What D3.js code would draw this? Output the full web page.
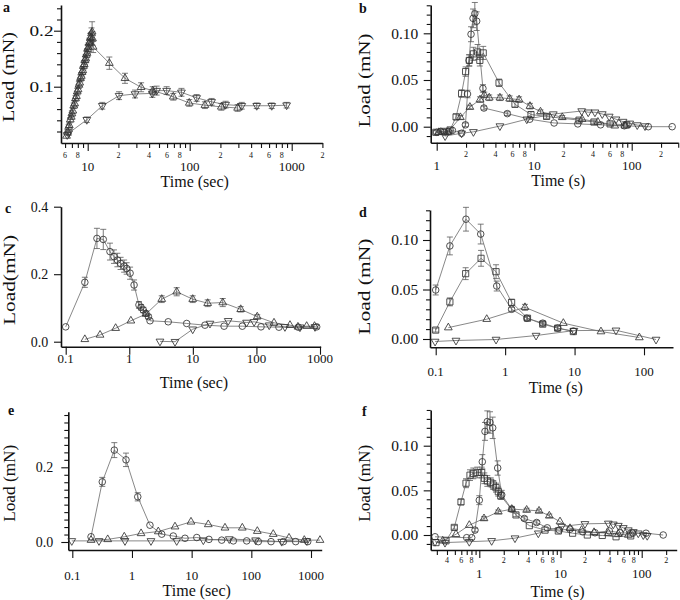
<!DOCTYPE html>
<html><head><meta charset="utf-8">
<script src="https://cdn.jsdelivr.net/npm/d3@7"></script>
<style>
body{margin:0;background:#fff}
svg{display:block;background:#fff}
text{font-family:"Liberation Serif","Times New Roman",serif;fill:#111}
</style>
</head><body>
<svg id="chart" width="680" height="600"></svg>
<script>
// ================= DATA =================
// Panel a
const aUpT = [6.2,6.35,6.5,6.6,6.75,6.9,7.0,7.15,7.3,7.45,7.6,7.75,7.9,8.05,8.2,8.35,8.5,8.65,8.8,8.95,9.1,9.25,9.4,9.55,9.7,9.85,10.0,10.15,10.3,10.45,10.6,10.75,10.9,11.05,11.15,11.3,16.3,23.2,33.4,43.4,69,99,141,204,295];
const aUpY = [0.012,0.019,0.028,0.031,0.041,0.046,0.052,0.057,0.066,0.070,0.079,0.083,0.091,0.095,0.103,0.107,0.115,0.119,0.126,0.129,0.137,0.140,0.147,0.150,0.157,0.160,0.167,0.170,0.177,0.179,0.186,0.188,0.195,0.198,0.186,0.171,0.142,0.115,0.099,0.093,0.082,0.071,0.067,0.064,0.062];
const aUpE = [0.003,0.003,0.004,0.004,0.004,0.004,0.005,0.005,0.005,0.005,0.005,0.005,0.006,0.006,0.006,0.006,0.006,0.006,0.007,0.007,0.007,0.007,0.007,0.007,0.008,0.008,0.008,0.008,0.008,0.008,0.009,0.009,0.010,0.018,0.012,0.010,0.011,0.009,0.008,0.007,0.006,0.006,0.006,0.006,0.006];
const aDnT = [6.3,6.5,9.8,13.9,20.3,29.1,43,47.4,59.4,83,117,164,225,324,454,637,892];
const aDnY = [0.014,0.017,0.041,0.066,0.084,0.087,0.088,0.093,0.093,0.090,0.080,0.073,0.068,0.066,0.066,0.066,0.067];
const aDnE = [0.003,0.004,0.005,0.006,0.007,0.007,0.007,0.008,0.007,0.007,0.006,0.006,0.006,0.006,0.005,0.005,0.005];

// Panel b
const bCiT = [1.0,1.1,1.2,1.32,1.45,1.8,1.97,2.07,2.15,2.25,2.36,2.46,2.57,2.98,3.05,5.3,9.0,16,28,48,84,148,260];
const bCiY = [-0.006,-0.005,-0.006,-0.005,-0.004,-0.007,0.002,0.035,0.071,0.099,0.116,0.121,0.113,0.041,0.020,0.014,0.008,0.004,0.003,0.002,0.001,0.0,0.0];
const bCiE = [0.001,0.001,0.001,0.001,0.001,0.001,0.002,0.004,0.006,0.008,0.010,0.012,0.010,0.004,0.002,0.002,0.001,0.001,0.001,0.001,0.001,0.001,0.001];
const bSqT = [0.98,1.17,1.37,1.58,1.8,1.98,2.16,2.38,2.63,2.77,3.0,4.36,6.35,9.27,13.4,28.8,41,60,89];
const bSqY = [-0.006,-0.005,-0.0035,0.0105,0.0355,0.059,0.071,0.078,0.080,0.071,0.079,0.047,0.024,0.013,0.011,0.007,0.005,0.003,0.002];
const bSqE = [0.002,0.002,0.002,0.003,0.004,0.005,0.006,0.007,0.008,0.006,0.007,0.004,0.003,0.003,0.002,0.002,0.002,0.002,0.002];
const bUpT = [1.05,1.3,1.75,2.19,2.78,3.08,3.46,4.45,5.6,7.0,9.05,11.6,19.4,31,45,67,85];
const bUpY = [-0.006,-0.006,0.010,0.021,0.029,0.034,0.031,0.031,0.030,0.029,0.022,0.016,0.010,0.008,0.005,0.001,0.001];
const bUpE = [0.001,0.001,0.002,0.002,0.003,0.003,0.003,0.003,0.003,0.003,0.003,0.002,0.002,0.001,0.001,0.001,0.001];
const bDnT = [1.22,1.8,2.38,4.45,8.4,15.7,30.7,35.8,42,49.9,58.8,69,81.5,95.5,114,137];
const bDnY = [-0.010,-0.007,-0.0055,0.0007,0.008,0.0135,0.0168,0.0155,0.0155,0.0136,0.011,0.008,0.0055,0.0036,0.0018,0.0007];
const bDnE = [0.001,0.001,0.001,0.001,0.001,0.001,0.001,0.001,0.001,0.001,0.001,0.001,0.001,0.001,0.001,0.001];

// Panel c
const cCiT = [0.1,0.2,0.31,0.39,0.497,0.575,0.65,0.73,0.83,0.91,1.03,1.19,1.42,1.53,1.66,1.83,2.0,2.12,4.1,8.0,15.5,31,60,118,226,456,887];
const cCiY = [0.044,0.176,0.306,0.303,0.267,0.252,0.242,0.232,0.224,0.217,0.203,0.168,0.109,0.102,0.094,0.084,0.074,0.062,0.059,0.054,0.049,0.046,0.046,0.044,0.043,0.043,0.044];
const cCiE = [0.004,0.015,0.030,0.030,0.025,0.020,0.020,0.018,0.018,0.017,0.018,0.015,0.010,0.008,0.008,0.006,0.006,0.005,0.005,0.004,0.004,0.004,0.004,0.003,0.003,0.003,0.003];
const cUpT = [0.2,0.347,0.61,1.06,1.83,3.24,5.57,9.95,17.1,29.5,56.6,103,189,337,450,617,820];
const cUpY = [0.007,0.020,0.040,0.062,0.082,0.126,0.148,0.126,0.114,0.116,0.096,0.074,0.056,0.049,0.044,0.046,0.046];
const cUpE = [0.002,0.003,0.003,0.004,0.004,0.010,0.012,0.010,0.010,0.012,0.008,0.006,0.004,0.003,0.003,0.003,0.003];
const cDnT = [3.04,5.24,9.95,18.6,36,70,92,159,281,484,834];
const cDnY = [0.001,0.0,0.037,0.054,0.062,0.057,0.059,0.049,0.044,0.043,0.044];
const cDnE = [0,0,0.003,0.003,0.004,0.004,0.004,0.003,0.003,0.003,0.003];

// Panel d
const dCiT = [0.1,0.16,0.273,0.445,0.757,1.24,2.05,3.48,5.71,9.6];
const dCiY = [0.0495,0.094,0.121,0.106,0.0535,0.030,0.021,0.016,0.011,0.008];
const dCiE = [0.005,0.009,0.012,0.010,0.005,0.002,0.002,0.002,0.002,0.001];
const dSqT = [0.1,0.16,0.27,0.45,0.74,1.24,2.1,3.48,5.71,9.6];
const dSqY = [0.009,0.0375,0.066,0.0815,0.068,0.037,0.021,0.015,0.011,0.0075];
const dSqE = [0.002,0.004,0.006,0.008,0.007,0.003,0.002,0.002,0.002,0.001];
const dUpT = [0.152,0.543,1.93,6.89,24,85.7];
const dUpY = [0.0115,0.020,0.032,0.016,0.0075,0.0015];
const dUpE = [0.001,0.001,0.003,0.001,0.001,0.001];
const dDnT = [0.098,0.196,0.74,2.79,9.8,39.5,149];
const dDnY = [-0.0025,-0.0015,-0.0005,0.0035,0.0085,0.0088,-0.0005];
const dDnE = [0,0.001,0.001,0.001,0.001,0.001,0.001];

// Panel e
const eCiT = [0.206,0.318,0.506,0.794,1.25,2.0,3.15,4.92,7.74,12.2,19.5,31.9,49.9,83.6,131,214,344,554,881];
const eCiY = [0.014,0.161,0.246,0.220,0.121,0.045,0.021,0.016,0.010,0.012,0.007,0.005,0.003,0.003,0.001,0.001,0.001,0.001,0.001];
const eCiE = [0.003,0.012,0.020,0.018,0.011,0.004,0.002,0.002,0.002,0.002,0.002,0.002,0.002,0.002,0.002,0.002,0.002,0.002,0.002];
const eUpT = [0.206,0.392,0.743,1.42,2.76,5.26,9.75,19,36.2,70.6,126,233,428,772,1416];
const eUpY = [0.005,0.007,0.014,0.023,0.028,0.041,0.054,0.047,0.038,0.038,0.029,0.021,0.011,0.005,0.005];
const eUpE = [0.002,0.002,0.002,0.003,0.003,0.004,0.004,0.003,0.003,0.004,0.003,0.003,0.002,0.002,0.002];
const eDnT = [0.098,0.28,0.764,2.08,5.62,15.7,42.7,118,323,847];
const eDnY = [0.003,0.003,0.003,0.003,0.003,0.005,0.008,0.005,0.001,0.003];
const eDnE = [0.001,0.001,0.001,0.001,0.001,0.001,0.001,0.001,0.001,0.001];

// Panel f
const fCiT = [0.285,0.70,0.806,0.885,1.0,1.089,1.175,1.255,1.355,1.462,1.685,1.888,2.51,3.58,5.09,6.87,9.66,13.1,18.8,26.6,39.9,54.1,77.5,113,184];
const fCiY = [-0.002,-0.003,-0.003,0.0055,0.039,0.082,0.116,0.127,0.126,0.120,0.075,0.045,0.029,0.0185,0.014,0.008,0.0055,0.0065,0.0035,0.0025,0.0045,0.0025,0.002,0.002,0.0];
const fCiE = [0.001,0.001,0.001,0.002,0.005,0.008,0.010,0.012,0.012,0.012,0.008,0.005,0.003,0.002,0.002,0.001,0.001,0.001,0.001,0.001,0.001,0.001,0.001,0.001,0.001];
const fSqT = [0.293,0.389,0.492,0.595,0.686,0.768,0.844,0.944,1.07,1.153,1.255,1.381,1.486,1.606,1.715,1.835,2.83,4.13,6.45,9.4,14.1,21.4,32.7,48.3,73.2];
const fSqY = [-0.0085,-0.0065,0.0085,0.037,0.058,0.067,0.069,0.070,0.070,0.0635,0.0605,0.059,0.056,0.053,0.0485,0.044,0.0225,0.0105,0.0055,0.0045,0.002,0.0,-0.0005,-0.002,-0.001];
const fSqE = [0.001,0.001,0.002,0.003,0.005,0.006,0.006,0.006,0.006,0.006,0.006,0.005,0.005,0.005,0.005,0.004,0.002,0.001,0.001,0.001,0.001,0.001,0.001,0.001,0.001];
const fUpT = [0.354,0.516,0.753,1.143,1.714,2.51,3.83,5.44,7.28,9.86,13.1,18.2,25.9,38.8,51.5,68.4];
const fUpY = [-0.0065,0.0008,0.011,0.0185,0.026,0.029,0.028,0.027,0.0215,0.015,0.0075,0.0055,0.003,0.002,0.001,0.0];
const fUpE = [0.001,0.001,0.001,0.002,0.002,0.002,0.002,0.002,0.002,0.001,0.001,0.001,0.001,0.001,0.001,0.001];
const fDnT = [0.285,0.378,0.753,1.42,2.75,5.33,10.3,20,38.8,44.7,51.5,59.3,68.4,78.8,90.8,104.6,117];
const fDnY = [-0.0075,-0.0085,-0.0075,-0.0065,-0.0035,0.002,0.0095,0.0125,0.013,0.012,0.0105,0.008,0.0055,0.0035,0.002,0.0,-0.0008];
const fDnE = [0.001,0.001,0.001,0.001,0.001,0.001,0.001,0.001,0.001,0.001,0.001,0.001,0.001,0.001,0.001,0.001,0.001];

// ================= TICKS =================
const aXMajor = [10,100,1000], aXMajorLab = ["10","100","1000"];
const aXMinor = [6,7,8,9,20,30,40,50,60,70,80,90,200,300,400,500,600,700,800,900,2000];
const aXMinorLabV = [6,8,20,40,60,80,200,400,600,800,2000], aXMinorLab = ["6","8","2","4","6","8","2","4","6","8","2"];
const aYMajor = [0.1,0.2], aYMajorLab = ["0.1","0.2"];
const aYMinor = [0.02,0.04,0.06,0.08,0.12,0.14,0.16,0.18,0.22,0.24];

const bXMajor = [1,10,100], bXMajorLab = ["1","10","100"];
const bXMinor = [2,3,4,5,6,7,8,9,20,30,40,50,60,70,80,90,200,300];
const bXMinorLabV = [2,4,6,8,20,40,60,80,200], bXMinorLab = ["2","4","6","8","2","4","6","8","2"];
const bYMajor = [0,0.05,0.10], bYMajorLab = ["0.00","0.05","0.10"];
const bYMinor = [-0.01,0.01,0.02,0.03,0.04,0.06,0.07,0.08,0.09,0.11,0.12,0.13];

const cXMajor = [0.1,1,10,100,1000], cXMajorLab = ["0.1","1","10","100","1000"];
const cYMajor = [0,0.2,0.4], cYMajorLab = ["0.0","0.2","0.4"];

const dXMajor = [0.1,1,10,100], dXMajorLab = ["0.1","1","10","100"];
const dYMajor = [0,0.05,0.10], dYMajorLab = ["0.00","0.05","0.10"];
const dYMinor = [0.01,0.02,0.03,0.04,0.06,0.07,0.08,0.09,0.11,0.12,0.13];

const eXMajor = [0.1,1,10,100,1000], eXMajorLab = ["0.1","1","10","100","1000"];
const eYMajor = [0,0.2], eYMajorLab = ["0.0","0.2"];
const eYMinor = [0.02,0.04,0.06,0.08,0.10,0.12,0.14,0.16,0.18,0.22,0.24,0.26,0.28,0.30,0.32,0.34];

const fXMajor = [1,10,100], fXMajorLab = ["1","10","100"];
const fXMinor = [0.3,0.4,0.5,0.6,0.7,0.8,0.9,2,3,4,5,6,7,8,9,20,30,40,50,60,70,80,90,200];
const fXMinorLabV = [0.4,0.6,0.8,2,4,6,8,20,40,60,80,200], fXMinorLab = ["4","6","8","2","4","6","8","2","4","6","8","2"];
const fYMajor = [0,0.05,0.10], fYMajorLab = ["0.00","0.05","0.10"];
const fYMinor = [-0.01,0.01,0.02,0.03,0.04,0.06,0.07,0.08,0.09,0.11,0.12,0.13,0.14];

// ================= LAYOUT =================
const panels = [
 {id:"a", L:61, R:322.4, T:5, B:143, xRef:[10,1000], xPx:[87.7,291.7], yRef:[0,0.2], yPx:[142.7,30.7],
  xMajor:aXMajor, xMajorLab:aXMajorLab, xMinor:aXMinor, xMinorLabV:aXMinorLabV, xMinorLab:aXMinorLab,
  yMajor:aYMajor, yMajorLab:aYMajorLab, yMinor:aYMinor,
  yLabRight:53.5, yLabSize:14, yLabLen:24, majorDy:27.5, minorDy:14.5, xTitle:"Time (sec)", xTitleX:194.7, xTitleY:187,
  yTitle:"Load (mN)", yTitleX:8, yTitleY:77, yTitleLen:90, letterX:3, letterY:12,
  series:[{t:aUpT,y:aUpY,e:aUpE,m:"up"},{t:aDnT,y:aDnY,e:aDnE,m:"dn"}]},
 {id:"b", L:430.7, R:678, T:5, B:142.7, xRef:[1,100], xPx:[436.7,631.7], yRef:[0,0.1], yPx:[126.7,33.3],
  xMajor:bXMajor, xMajorLab:bXMajorLab, xMinor:bXMinor, xMinorLabV:bXMinorLabV, xMinorLab:bXMinorLab,
  yMajor:bYMajor, yMajorLab:bYMajorLab, yMinor:bYMinor,
  yLabRight:418.3, yLabSize:15, yLabLen:27, majorDy:27, minorDy:14.3, xTitle:"Time (s)", xTitleX:558.3, xTitleY:185.5,
  yTitle:"Load (mN)", yTitleX:364, yTitleY:80.5, yTitleLen:94, letterX:359, letterY:13,
  series:[{t:bCiT,y:bCiY,e:bCiE,m:"ci"},{t:bSqT,y:bSqY,e:bSqE,m:"sq"},{t:bUpT,y:bUpY,e:bUpE,m:"up"},{t:bDnT,y:bDnY,e:bDnE,m:"dn"}]},
 {id:"c", L:61, R:320.7, T:206.7, B:346.7, xRef:[0.1,1000], xPx:[65.7,320], yRef:[0,0.4], yPx:[341.7,206.7],
  xMajor:cXMajor, xMajorLab:cXMajorLab, xMinor:[], xMinorLabV:[], xMinorLab:[],
  yMajor:cYMajor, yMajorLab:cYMajorLab, yMinor:[],
  yLabRight:48.3, yLabSize:14, yLabLen:null, majorDy:16.6, minorDy:0, xTitle:"Time (sec)", xTitleX:194, xTitleY:388,
  yTitle:"Load(mN)", yTitleX:9, yTitleY:280, yTitleLen:90, letterX:5, letterY:213,
  series:[{t:cCiT,y:cCiY,e:cCiE,m:"ci"},{t:cUpT,y:cUpY,e:cUpE,m:"up"},{t:cDnT,y:cDnY,e:cDnE,m:"dn"}]},
 {id:"d", L:430, R:673, T:210, B:347.3, xRef:[0.1,100], xPx:[435.7,644], yRef:[0,0.1], yPx:[339,240],
  xMajor:dXMajor, xMajorLab:dXMajorLab, xMinor:[], xMinorLabV:[], xMinorLab:[],
  yMajor:dYMajor, yMajorLab:dYMajorLab, yMinor:dYMinor,
  yLabRight:418.3, yLabSize:15, yLabLen:27, majorDy:28.4, minorDy:0, xTitle:"Time (s)", xTitleX:555.8, xTitleY:393,
  yTitle:"Load (mN)", yTitleX:364, yTitleY:286.7, yTitleLen:96, letterX:359, letterY:216.5,
  series:[{t:dCiT,y:dCiY,e:dCiE,m:"ci"},{t:dSqT,y:dSqY,e:dSqE,m:"sq"},{t:dUpT,y:dUpY,e:dUpE,m:"up"},{t:dDnT,y:dDnY,e:dDnE,m:"dn"}]},
 {id:"e", L:68.3, R:321.7, T:411.7, B:550, xRef:[0.1,1000], xPx:[72.3,311], yRef:[0,0.2], yPx:[542,467.3],
  xMajor:eXMajor, xMajorLab:eXMajorLab, xMinor:[], xMinorLabV:[], xMinorLab:[],
  yMajor:eYMajor, yMajorLab:eYMajorLab, yMinor:eYMinor,
  yLabRight:53.3, yLabSize:14, yLabLen:null, majorDy:29.5, minorDy:0, xTitle:"Time (sec)", xTitleX:196.7, xTitleY:595.5,
  yTitle:"Load (mN)", yTitleX:9, yTitleY:483.3, yTitleLen:77, letterX:8, letterY:415,
  series:[{t:eCiT,y:eCiY,e:eCiE,m:"ci"},{t:eUpT,y:eUpY,e:eUpE,m:"up"},{t:eDnT,y:eDnY,e:eDnE,m:"dn"}]},
 {id:"f", L:430.7, R:676.7, T:410, B:550, xRef:[1,100], xPx:[479.3,641.7], yRef:[0,0.1], yPx:[535,445.7],
  xMajor:fXMajor, xMajorLab:fXMajorLab, xMinor:fXMinor, xMinorLabV:fXMinorLabV, xMinorLab:fXMinorLab,
  yMajor:fYMajor, yMajorLab:fYMajorLab, yMinor:fYMinor,
  yLabRight:418.3, yLabSize:15, yLabLen:27, majorDy:27.5, minorDy:13, xTitle:"Time (s)", xTitleX:557.5, xTitleY:597,
  yTitle:"Load (mN)", yTitleX:364, yTitleY:483.3, yTitleLen:77, letterX:362, letterY:415.5,
  series:[{t:fCiT,y:fCiY,e:fCiE,m:"ci"},{t:fSqT,y:fSqY,e:fSqE,m:"sq"},{t:fUpT,y:fUpY,e:fUpE,m:"up"},{t:fDnT,y:fDnY,e:fDnE,m:"dn"}]}
];

// ================= DRAW =================
const svg = d3.select("#chart");
svg.append("rect").attr("width",680).attr("height",600).attr("fill","#fff");

const symbolFor = {
  ci: d3.symbol().type(d3.symbolCircle).size(34),
  sq: d3.symbol().type(d3.symbolSquare).size(38),
  up: d3.symbol().type(d3.symbolTriangle).size(26),
  dn: d3.symbol().type(d3.symbolTriangle).size(26)
};

panels.forEach(p => {
  const g = svg.append("g").attr("class","panel-"+p.id);
  const x0 = d3.scaleLog().domain(p.xRef).range(p.xPx);
  const y0 = d3.scaleLinear().domain(p.yRef).range(p.yPx);
  const x = d3.scaleLog().domain([x0.invert(p.L), x0.invert(p.R)]).range([p.L, p.R]);
  const y = d3.scaleLinear().domain([y0.invert(p.B), y0.invert(p.T)]).range([p.B, p.T]);
  const inX = v => x(v) >= p.L - 0.6 && x(v) <= p.R + 0.6;
  const inY = v => y(v) <= p.B + 0.6 && y(v) >= p.T - 0.6;

  const styleAxis = sel => { sel.selectAll("line").attr("stroke","#111").attr("stroke-width",1.1); sel.selectAll("text").remove(); };
  g.append("g").attr("transform",`translate(0,${p.B})`)
    .call(d3.axisBottom(x).tickValues(p.xMajor.filter(inX)).tickSize(8).tickSizeOuter(0).tickFormat(""))
    .call(sel => { sel.select(".domain").attr("stroke","#111").attr("stroke-width",1.6); styleAxis(sel); });
  if (p.xMinor.length) {
    g.append("g").attr("transform",`translate(0,${p.B})`)
      .call(d3.axisBottom(x).tickValues(p.xMinor.filter(inX)).tickSize(5).tickSizeOuter(0).tickFormat(""))
      .call(sel => { sel.select(".domain").remove(); styleAxis(sel); });
  }
  g.append("g").attr("transform",`translate(${p.L},0)`)
    .call(d3.axisLeft(y).tickValues(p.yMajor.filter(inY)).tickSize(7).tickSizeOuter(0).tickFormat(""))
    .call(sel => { sel.select(".domain").attr("stroke","#111").attr("stroke-width",1.6); styleAxis(sel); });
  if (p.yMinor.length) {
    g.append("g").attr("transform",`translate(${p.L},0)`)
      .call(d3.axisLeft(y).tickValues(p.yMinor.filter(inY)).tickSize(4).tickSizeOuter(0).tickFormat(""))
      .call(sel => { sel.select(".domain").remove(); styleAxis(sel); });
  }

  p.xMajor.forEach((v,i) => {
    if (!inX(v)) return;
    g.append("text").attr("x", x(v)).attr("y", p.B + p.majorDy).attr("text-anchor","middle")
      .attr("font-size",13).text(p.xMajorLab[i]);
  });
  p.xMinorLabV.forEach((v,i) => {
    if (!inX(v)) return;
    g.append("text").attr("x", x(v)).attr("y", p.B + p.minorDy).attr("text-anchor","middle")
      .attr("font-size",8).text(p.xMinorLab[i]);
  });
  p.yMajor.forEach((v,i) => {
    if (!inY(v)) return;
    const t = g.append("text").attr("x", p.yLabRight).attr("y", y(v)).attr("dy","0.35em")
      .attr("text-anchor","end").attr("font-size",p.yLabSize).text(p.yMajorLab[i]);
    if (p.yLabLen) t.attr("textLength",p.yLabLen).attr("lengthAdjust","spacingAndGlyphs");
  });

  g.append("text").attr("x",p.xTitleX).attr("y",p.xTitleY).attr("text-anchor","middle")
    .attr("font-size",16).text(p.xTitle);
  g.append("text").attr("transform",`translate(${p.yTitleX},${p.yTitleY}) rotate(-90)`)
    .attr("text-anchor","middle").attr("dominant-baseline","central")
    .attr("font-size",17).attr("textLength",p.yTitleLen).attr("lengthAdjust","spacingAndGlyphs")
    .text(p.yTitle);
  g.append("text").attr("x",p.letterX).attr("y",p.letterY).attr("font-size",14)
    .attr("font-weight","bold").text(p.id);

  const line = d3.line().x(d => x(d.t)).y(d => y(d.v));
  const all = p.series.map(s => ({m:s.m, pts: s.t.map((t,i) => ({t, v:s.y[i], e:(s.e && s.e[i]) || 0}))}));
  all.forEach(s => {
    g.append("path").datum(s.pts).attr("d",line).attr("fill","none")
      .attr("stroke","#6a6a6a").attr("stroke-width",0.8);
  });
  all.forEach(s => {
    const eb = g.append("g").attr("stroke","#5a5a5a").attr("stroke-width",0.8);
    s.pts.filter(d => d.e > 0 && Math.abs(y(d.v - d.e) - y(d.v + d.e)) > 3.5).forEach(d => {
      const cx = x(d.t), y1 = y(d.v + d.e), y2 = y(d.v - d.e);
      eb.append("line").attr("x1",cx).attr("x2",cx).attr("y1",y1).attr("y2",y2);
      eb.append("line").attr("x1",cx-3).attr("x2",cx+3).attr("y1",y1).attr("y2",y1);
      eb.append("line").attr("x1",cx-3).attr("x2",cx+3).attr("y1",y2).attr("y2",y2);
    });
  });
  all.forEach(s => {
    g.append("g").selectAll("path").data(s.pts).join("path")
      .attr("d", symbolFor[s.m])
      .attr("transform", d => `translate(${x(d.t)},${y(d.v)})` + (s.m === "dn" ? " rotate(180)" : ""))
      .attr("fill","none").attr("stroke","#333").attr("stroke-width",0.85);
  });
});
</script>
</body></html>
